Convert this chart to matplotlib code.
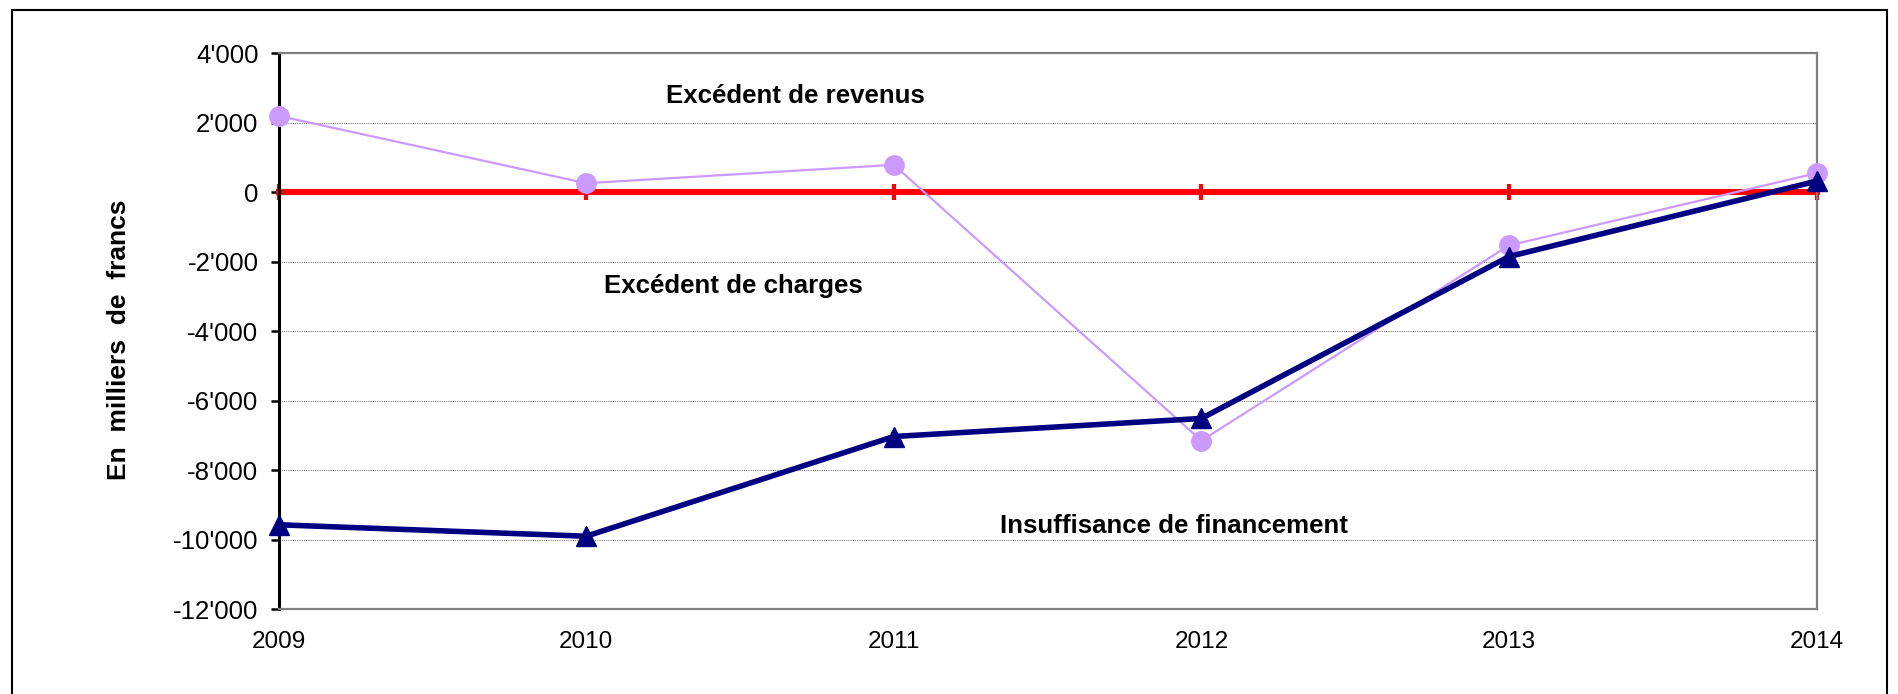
import matplotlib
matplotlib.use("Agg")
import matplotlib.pyplot as plt
from matplotlib.ticker import FuncFormatter
from matplotlib.patches import Rectangle

plt.rcParams['font.family'] = ['Liberation Sans', 'DejaVu Sans']

years = [2009, 2010, 2011, 2012, 2013, 2014]
resultat = [2200, 260, 790, -7150, -1530, 550]          # excédent de revenus / charges
financement = [-9570, -9900, -7030, -6510, -1850, 320]  # insuffisance de financement
yticks = [4000, 2000, 0, -2000, -4000, -6000, -8000, -10000, -12000]

def fmt(v, pos):
    s = "{:,}".format(int(abs(v))).replace(",", "'")
    return ("-" if v < 0 else "") + s

fig = plt.figure(figsize=(18.99, 6.94), dpi=100)
ax = fig.add_axes([0.1467, 0.1222, 0.8099, 0.801])

# outer frame
fig.patches.append(Rectangle((0.0064, -0.02), 0.9872, 1.006, transform=fig.transFigure,
                             fill=False, edgecolor='black', linewidth=1.5))

ax.set_xlim(2009, 2014)
ax.set_ylim(-12000, 4000)
ax.set_yticks(yticks)
ax.set_xticks(years)
ax.yaxis.set_major_formatter(FuncFormatter(fmt))

for v in yticks[1:-1]:
    ax.axhline(v, color='#808080', lw=0.8, ls=(0, (1, 1)), zorder=1)

# zero line with red category ticks
ax.plot([2009, 2014], [0, 0], color='#FF0000', lw=4.3, zorder=2, clip_on=False)
ax.plot(years, [0] * len(years), ls='none', marker='|', ms=11.5, mew=3,
        color='#FF0000', zorder=2, clip_on=False)

ax.plot(years, resultat, color='#CC99FF', lw=1.6, marker='o', ms=14,
        markeredgecolor='#CC99FF', zorder=3, clip_on=False)
ax.plot(years, financement, color='#000080', lw=4, marker='^', ms=14,
        markeredgecolor='#000080', zorder=4, clip_on=False)

for s in ['top', 'right', 'bottom']:
    ax.spines[s].set_color('#808080')
    ax.spines[s].set_linewidth(1.6)
ax.spines['left'].set_color('black')
ax.spines['left'].set_linewidth(2.2)

ax.tick_params(axis='y', direction='out', length=5.5, width=1.8, labelsize=18.6, pad=9)
ax.tick_params(axis='x', length=0, labelsize=17.5, pad=16)

ax.set_ylabel('En  milliers  de  francs', fontsize=19, fontweight='bold')
ax.yaxis.set_label_coords(-0.096, 0.484)

ax.text(2010.68, 2780, 'Excédent de revenus', ha='center', va='center',
        fontsize=18.6, fontweight='bold')
ax.text(2010.48, -2710, 'Excédent de charges', ha='center', va='center',
        fontsize=18.6, fontweight='bold')
ax.text(2011.91, -9600, 'Insuffisance de financement', ha='center', va='center',
        fontsize=18.6, fontweight='bold')

fig.savefig('out.png', dpi=100)
